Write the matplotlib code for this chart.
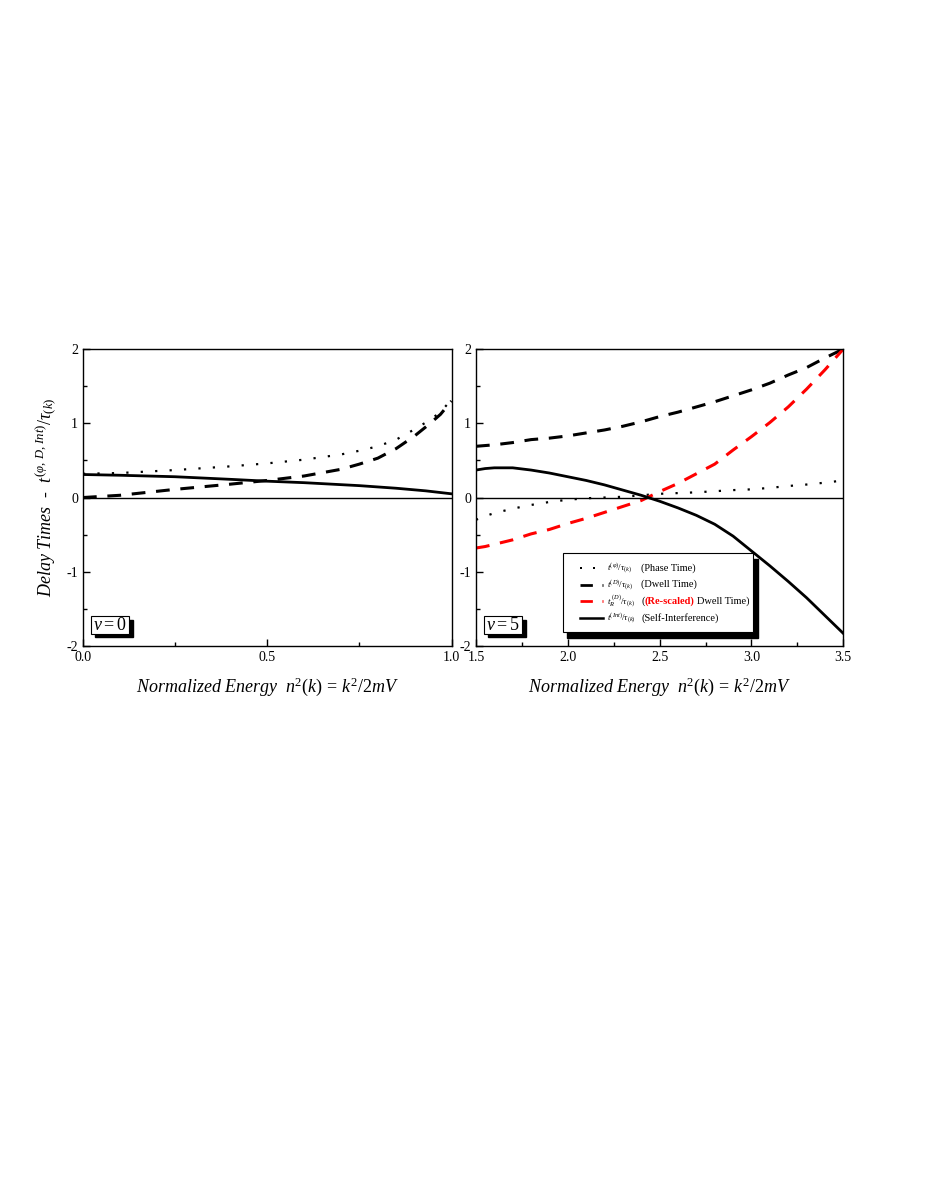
import matplotlib
matplotlib.use("Agg")
import matplotlib.pyplot as plt
from matplotlib.patches import Rectangle
from matplotlib.lines import Line2D
from matplotlib.ticker import MultipleLocator, FormatStrFormatter

plt.rcParams['font.family'] = ['Liberation Serif', 'DejaVu Serif']
plt.rcParams['mathtext.fontset'] = 'custom'
plt.rcParams['mathtext.rm'] = 'Liberation Serif'
plt.rcParams['mathtext.it'] = 'Liberation Serif:italic'
plt.rcParams['mathtext.bf'] = 'Liberation Serif:bold'
plt.rcParams['axes.unicode_minus'] = False

# v = 0 panel
x0_phase = [0.0, 0.1, 0.25, 0.4, 0.5, 0.6, 0.7, 0.75, 0.8, 0.85, 0.9, 0.94, 0.97, 1.0]
y0_phase = [0.32, 0.33, 0.37, 0.42, 0.46, 0.51, 0.58, 0.63, 0.69, 0.78, 0.92, 1.04, 1.15, 1.32]
x0_dwell = [0.0, 0.1, 0.25, 0.4, 0.5, 0.6, 0.7, 0.75, 0.8, 0.85, 0.9, 0.94, 0.97, 1.0]
y0_dwell = [0.0, 0.03, 0.11, 0.18, 0.23, 0.29, 0.38, 0.45, 0.53, 0.66, 0.83, 0.99, 1.12, 1.3]
x0_int = [0.0, 0.1, 0.25, 0.4, 0.5, 0.6, 0.75, 0.85, 0.93, 1.0]
y0_int = [0.31, 0.30, 0.28, 0.245, 0.22, 0.20, 0.16, 0.125, 0.09, 0.05]

# v = 5 panel
x5 = [1.5, 1.55, 1.6, 1.7, 1.8, 1.9, 2.0, 2.1, 2.2, 2.3, 2.4, 2.5, 2.6, 2.7, 2.8,
      2.9, 3.0, 3.1, 3.2, 3.3, 3.4, 3.5]
y5_phase = [-0.30, -0.25, -0.21, -0.15, -0.10, -0.06, -0.03, -0.01, 0.0, 0.01, 0.03, 0.05,
            0.06, 0.07, 0.085, 0.10, 0.11, 0.13, 0.155, 0.175, 0.20, 0.23]
y5_dwell = [0.69, 0.70, 0.71, 0.74, 0.78, 0.80, 0.83, 0.87, 0.91, 0.96, 1.02, 1.09,
            1.15, 1.22, 1.29, 1.37, 1.45, 1.54, 1.65, 1.75, 1.88, 2.0]
y5_rescaled = [-0.68, -0.66, -0.63, -0.57, -0.49, -0.43, -0.35, -0.28, -0.20, -0.12, -0.04, 0.08,
               0.19, 0.32, 0.45, 0.64, 0.82, 1.01, 1.22, 1.46, 1.72, 2.0]
y5_int = [0.37, 0.39, 0.40, 0.40, 0.37, 0.33, 0.28, 0.23, 0.17, 0.10, 0.03, -0.05,
          -0.14, -0.24, -0.36, -0.52, -0.72, -0.92, -1.13, -1.35, -1.59, -1.83]

panel_labels = ["$v = 0$", "$v = 5$"]
legend_labels = [r"$t^{(\varphi)}/\tau_{(k)}$", r"$t^{(D)}/\tau_{(k)}$",
                 r"$t_R^{\ (D)}/\tau_{(k)}$", r"$t^{(Int)}/\tau_{(k)}$"]
legend_notes = ["(Phase Time)", "(Dwell Time)", "(Re-scaled)", "(Self-Interference)"]

fig = plt.figure(figsize=(9.26, 11.99), dpi=100)
axL = fig.add_axes([0.0896, 0.4612, 0.398, 0.2477])
axR = fig.add_axes([0.514, 0.4612, 0.3967, 0.2477])

dot = dict(color='black', lw=1.6, ls=(0, (1, 5.5)))
dash = dict(color='black', lw=2.2, ls=(0, (4.5, 3.5)))
rdash = dict(color='red', lw=2.2, ls=(0, (4.5, 3.5)))
solid = dict(color='black', lw=2.0)

axL.plot(x0_phase, y0_phase, **dot)
axL.plot(x0_dwell, y0_dwell, **dash)
axL.plot(x0_int, y0_int, **solid)

axR.plot(x5, y5_phase, **dot)
axR.plot(x5, y5_dwell, **dash)
axR.plot(x5, y5_rescaled, **rdash)
axR.plot(x5, y5_int, **solid)

for ax, xlim, lab in [(axL, (0.0, 1.0), panel_labels[0]), (axR, (1.5, 3.5), panel_labels[1])]:
    ax.set_xlim(*xlim)
    ax.set_ylim(-2, 2)
    ax.axhline(0, color='black', lw=1.0)
    ax.xaxis.set_major_locator(MultipleLocator(0.5))
    ax.xaxis.set_minor_locator(MultipleLocator(0.25))
    ax.yaxis.set_major_locator(MultipleLocator(1))
    ax.yaxis.set_minor_locator(MultipleLocator(0.5))
    ax.xaxis.set_major_formatter(FormatStrFormatter('%.1f'))
    ax.tick_params(which='both', direction='in', labelsize=10, top=False, right=False)
    ax.tick_params(which='major', length=5, width=1)
    ax.tick_params(which='minor', length=3, width=1)
    for s in ax.spines.values():
        s.set_linewidth(1.0)
    ax.set_xlabel(r"$Normalized\ Energy\ \ n^2(k)\,=\,k^2/2mV$", fontsize=13, labelpad=8)
    # panel label box with shadow
    ax.add_patch(Rectangle((0.032, 0.03), 0.104, 0.058, transform=ax.transAxes,
                           facecolor='black', edgecolor='black', zorder=4))
    ax.add_patch(Rectangle((0.022, 0.042), 0.104, 0.058, transform=ax.transAxes,
                           facecolor='white', edgecolor='black', lw=0.8, zorder=5))
    ax.text(0.074, 0.070, lab, transform=ax.transAxes, ha='center', va='center',
            fontsize=13, zorder=6)

axL.set_ylabel(r"$Delay\ Times$  -  $t^{(\varphi,\,D,\,Int)}/\tau_{(k)}$", fontsize=13, labelpad=6)

# legend box with shadow (right panel)
bx, by, bw, bh = 0.237, 0.047, 0.518, 0.266
axR.add_patch(Rectangle((bx + 0.012, by - 0.02), bw, bh, transform=axR.transAxes,
                        facecolor='black', edgecolor='black', zorder=6))
axR.add_patch(Rectangle((bx, by), bw, bh, transform=axR.transAxes,
                        facecolor='white', edgecolor='black', lw=0.8, zorder=7))
styles = [dot, dash, rdash, solid]
ys = [0.263, 0.207, 0.150, 0.095]
for st, lab, note, yy in zip(styles, legend_labels, legend_notes, ys):
    kw = dict(st)
    kw['lw'] = kw['lw'] * 0.9
    axR.add_line(Line2D([0.283, 0.345], [yy, yy], transform=axR.transAxes, zorder=8, **kw))
    axR.text(0.357, yy, lab, transform=axR.transAxes, fontsize=6.5, va='center', zorder=8)
    if note == "(Re-scaled)":
        t1 = axR.text(0.45, yy, "(", transform=axR.transAxes, fontsize=7.5, va='center', zorder=8)
        t2 = axR.annotate("(Re-scaled)", xy=(1, 0), xycoords=t1, va='bottom', fontsize=7.5,
                          color='red', fontweight='bold', zorder=8)
        axR.annotate("Dwell Time)", xy=(1, 0), xycoords=t2, xytext=(2, 0),
                     textcoords='offset points', va='bottom', fontsize=7.5, zorder=8)
    else:
        axR.text(0.45, yy, note, transform=axR.transAxes, fontsize=7.5, va='center', zorder=8)

fig.savefig("out.png", dpi=100)
